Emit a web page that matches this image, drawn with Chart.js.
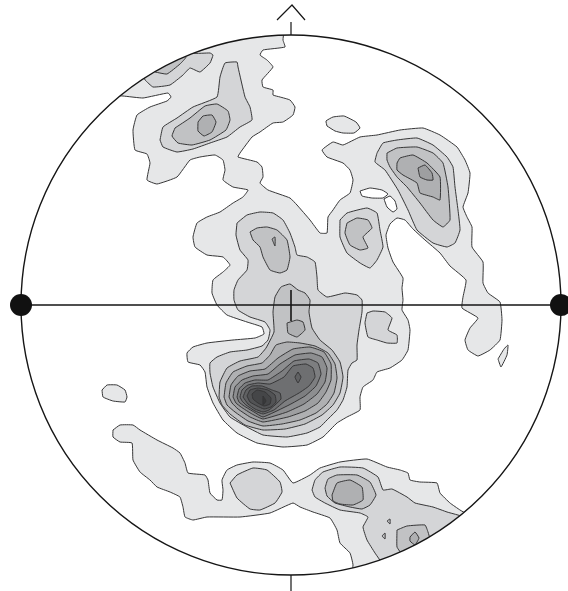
<!DOCTYPE html>
<html lang="en">
<head>
  <meta charset="UTF-8" />
  <title>Stereonet contours</title>
  <script src="https://cdn.jsdelivr.net/npm/chart.js"></script>
  <style>
    body { margin: 0; background: #fff; overflow: hidden; }
    #wrap { width: 568px; height: 591px; position: relative; }
  </style>
</head>
<body>
  <div id="wrap"><canvas id="net"></canvas></div>
  <script>
    // projection plane, primitive circle radius = 270 units, centre at 0,0
    const primitiveRadius = 270;

    // fill shade per contour level (index 0 = hole / background)
    const levelColors = ['#ffffff', '#e6e7e8', '#d4d5d7', '#c1c2c4', '#afb0b2', '#9e9fa1',
      '#8d8e90', '#7d7e80', '#6e6f71', '#606163', '#525355', '#454648', '#38393b'];

    // level 1
    const mainOuter = [[-186,225],[-141,275],[-71,290],[-7,285],[-8,265],[-6,258],[-28,255],[-31,250],[-24,245],[-18,238],[-29,225],[-28,218],[-18,215],[-18,210],[-11,208],[-1,205],[4,198],[2,190],[-8,183],[-18,182],[-31,173],[-39,168],[-51,152],[-53,148],[-34,143],[-29,138],[-28,128],[-31,122],[-23,115],[-1,107],[6,100],[19,85],[29,72],[36,72],[37,88],[42,95],[49,105],[59,112],[62,125],[59,135],[52,142],[36,148],[31,155],[42,163],[52,160],[69,168],[86,170],[109,175],[132,177],[149,170],[166,158],[174,145],[179,132],[177,112],[172,98],[176,88],[181,78],[181,58],[192,43],[192,22],[197,12],[209,3],[211,-15],[209,-35],[199,-45],[187,-51],[177,-45],[174,-35],[179,-23],[187,-13],[171,-3],[172,8],[175,25],[159,39],[149,52],[134,65],[122,76],[114,85],[106,87],[99,81],[95,70],[97,57],[102,43],[112,27],[111,17],[112,5],[111,-5],[117,-15],[119,-25],[117,-45],[111,-55],[99,-63],[86,-67],[82,-75],[72,-82],[69,-92],[69,-105],[56,-112],[46,-118],[32,-132],[16,-140],[-8,-142],[-34,-138],[-54,-128],[-68,-115],[-78,-98],[-84,-82],[-86,-67],[-91,-60],[-103,-57],[-104,-48],[-98,-42],[-84,-38],[-58,-35],[-36,-33],[-27,-29],[-29,-22],[-44,-17],[-64,-10],[-74,0],[-79,12],[-78,25],[-68,33],[-61,40],[-68,48],[-84,50],[-96,58],[-98,68],[-94,82],[-84,88],[-71,93],[-58,102],[-48,108],[-43,115],[-58,118],[-68,125],[-66,135],[-68,145],[-76,150],[-91,148],[-101,145],[-114,128],[-134,121],[-144,125],[-141,142],[-144,151],[-156,155],[-158,175],[-154,190],[-141,198],[-124,204],[-120,208],[-123,212],[-148,207],[-168,209],[-191,210]];
    const northIsland = [[36,179],[35,184],[42,188],[53,189],[65,183],[69,177],[63,172],[52,172],[44,174]];
    const westIsland = [[-189,-85],[-184,-80],[-174,-80],[-166,-85],[-164,-92],[-166,-97],[-178,-96],[-188,-92]];
    const eastIsland = [[207,-54],[213,-44],[217,-40],[216,-50],[210,-62]];
    const southBand = [[-178,-125],[-171,-120],[-158,-120],[-151,-125],[-134,-135],[-118,-143],[-111,-148],[-106,-158],[-103,-168],[-86,-170],[-83,-175],[-81,-188],[-74,-195],[-69,-195],[-68,-185],[-69,-175],[-64,-165],[-54,-160],[-38,-157],[-21,-158],[-8,-165],[2,-178],[19,-170],[29,-163],[49,-157],[76,-154],[96,-162],[109,-165],[117,-168],[119,-175],[129,-177],[146,-178],[149,-188],[159,-198],[169,-205],[184,-215],[159,-275],[69,-290],[59,-285],[62,-260],[59,-248],[49,-238],[46,-225],[39,-213],[22,-207],[9,-202],[2,-198],[-21,-208],[-51,-212],[-84,-212],[-98,-215],[-106,-212],[-108,-202],[-111,-192],[-121,-187],[-134,-182],[-141,-175],[-151,-167],[-158,-155],[-159,-138],[-171,-137],[-178,-132]];

    // holes inside level 1
    const holeWide = [[69,114],[79,117],[91,115],[97,111],[92,107],[81,107],[71,109]];
    const holeSmall = [[93,106],[99,109],[104,104],[106,96],[102,93],[96,98]];

    // level 2
    const nwBand2 = [[-146,225],[-138,218],[-121,220],[-108,230],[-101,237],[-91,233],[-81,242],[-78,250],[-81,252],[-98,252],[-101,265],[-151,245]];
    const nw2 = [[-131,165],[-128,178],[-114,187],[-98,198],[-74,208],[-71,228],[-66,242],[-54,243],[-53,238],[-46,208],[-41,198],[-39,185],[-51,178],[-64,168],[-81,162],[-98,156],[-114,153],[-128,158]];
    const ne2 = [[86,152],[92,162],[106,165],[126,167],[142,160],[156,148],[162,138],[164,118],[167,95],[169,75],[164,62],[156,58],[142,62],[126,75],[117,95],[107,115],[94,135],[84,143]];
    const centerRight2 = [[49,85],[56,92],[76,97],[86,92],[89,75],[92,58],[86,45],[79,37],[69,42],[56,52],[49,68]];
    const center2 = [[-54,82],[-44,90],[-31,93],[-18,92],[-8,85],[-1,72],[4,58],[6,50],[16,48],[24,43],[26,28],[27,15],[36,8],[54,12],[66,10],[71,5],[71,-7],[68,-25],[66,-40],[66,-55],[61,-58],[57,-65],[56,-82],[52,-95],[46,-105],[36,-115],[29,-122],[16,-128],[-4,-132],[-28,-130],[-44,-122],[-61,-112],[-71,-98],[-78,-82],[-81,-68],[-81,-58],[-74,-52],[-61,-47],[-44,-45],[-29,-41],[-23,-35],[-21,-25],[-26,-17],[-41,-12],[-53,-5],[-57,5],[-57,15],[-53,25],[-44,35],[-43,45],[-51,55],[-55,70]];
    const spot2 = [[76,-8],[82,-6],[94,-7],[101,-13],[97,-25],[106,-30],[106,-38],[96,-38],[86,-35],[77,-32],[74,-18]];
    const southBand2 = [[-61,-178],[-54,-170],[-38,-163],[-24,-165],[-11,-177],[-9,-187],[-16,-198],[-31,-205],[-41,-204],[-54,-193]];
    const south2 = [[21,-185],[24,-175],[32,-167],[49,-162],[72,-163],[87,-172],[92,-185],[101,-184],[116,-192],[124,-198],[142,-202],[156,-207],[179,-215],[149,-285],[99,-285],[92,-260],[84,-248],[76,-235],[72,-222],[77,-212],[69,-208],[49,-205],[34,-198],[24,-192]];

    // level 3
    const nwBand3 = [[-136,233],[-124,231],[-111,241],[-105,248],[-116,260],[-141,250]];
    const nw3 = [[-116,177],[-101,187],[-86,199],[-74,201],[-63,194],[-61,185],[-65,175],[-81,165],[-99,160],[-113,162],[-119,169]];
    const ne3 = [[96,152],[106,157],[126,158],[142,152],[152,142],[157,118],[159,85],[152,78],[142,85],[129,102],[116,118],[106,128],[99,138],[96,145]];
    const centerRight3 = [[56,82],[66,87],[77,85],[81,77],[72,68],[77,57],[69,55],[59,60],[54,72]];
    const centerTop3 = [[-41,73],[-34,77],[-24,78],[-14,75],[-4,65],[-1,48],[-4,35],[-11,32],[-21,35],[-28,48],[-31,58],[-38,65]];
    const center3 = [[-72,-92],[-71,-77],[-64,-63],[-51,-56],[-33,-52],[-25,-43],[-17,-27],[-18,-7],[-16,8],[-10,18],[-1,21],[7,15],[14,12],[19,5],[18,-7],[21,-23],[29,-35],[41,-45],[49,-57],[52,-72],[49,-88],[42,-100],[31,-110],[14,-119],[-6,-124],[-28,-125],[-46,-120],[-61,-109],[-69,-100]];
    const south3West = [[34,-183],[37,-174],[46,-170],[66,-170],[79,-177],[85,-190],[79,-200],[71,-204],[59,-202],[44,-198],[36,-191]];
    const south3East = [[106,-225],[116,-221],[134,-220],[137,-227],[139,-235],[132,-242],[122,-248],[112,-250],[106,-242]];
    const southTickA = [[96,-216],[99,-219],[99,-214]];
    const southTickB = [[91,-231],[94,-228],[94,-234]];

    // level 4
    const nw4 = [[-93,183],[-88,189],[-79,190],[-75,183],[-79,173],[-87,169],[-93,174]];
    const ne4 = [[106,142],[109,147],[122,150],[136,142],[149,128],[149,105],[142,108],[129,112],[126,122],[112,130],[106,135]];
    const centerTop4 = [[-19,66],[-16,68],[-16,59]];
    const stem4 = [[-4,-18],[6,-15],[12,-17],[14,-25],[6,-32],[-3,-28]];
    const center4 = [[-67,-92],[-65,-78],[-58,-67],[-44,-61],[-29,-58],[-21,-50],[-15,-40],[-4,-37],[9,-38],[24,-41],[37,-48],[44,-59],[46,-73],[43,-88],[36,-99],[25,-108],[9,-115],[-9,-119],[-28,-121],[-43,-116],[-56,-107],[-64,-100]];
    const south4West = [[41,-190],[46,-178],[59,-175],[71,-182],[72,-195],[62,-200],[49,-199],[42,-196]];
    const south4East = [[119,-232],[124,-227],[128,-233],[124,-240],[119,-236]];

    // levels 5 to 12
    const ne5 = [[127,137],[134,140],[141,132],[142,125],[136,125],[129,128]];
    const center5 = [[-62,-92],[-60,-80],[-53,-71],[-41,-66],[-26,-64],[-13,-53],[2,-44],[19,-42],[33,-47],[40,-59],[40,-75],[35,-87],[27,-98],[14,-106],[-3,-112],[-28,-117],[-41,-112],[-53,-104],[-59,-98]];
    const center6 = [[-58,-92],[-56,-82],[-49,-75],[-38,-71],[-23,-69],[-11,-59],[4,-50],[20,-48],[31,-52],[36,-63],[34,-77],[26,-89],[13,-99],[-4,-107],[-28,-114],[-39,-109],[-50,-102],[-55,-98]];
    const center7 = [[-54,-92],[-52,-84],[-46,-78],[-36,-75],[-23,-75],[-9,-66],[3,-56],[18,-54],[27,-58],[30,-69],[25,-81],[14,-91],[-2,-100],[-28,-112],[-37,-107],[-47,-101],[-52,-97]];
    const center8 = [[-51,-92],[-49,-85],[-43,-80],[-33,-78],[-21,-79],[-7,-72],[2,-61],[15,-59],[22,-63],[24,-72],[18,-81],[8,-88],[-6,-96],[-17,-105],[-28,-109],[-36,-106],[-45,-100],[-49,-96]];
    const peak9 = [[7,-67],[10,-72],[7,-78],[4,-72]];
    const center9 = [[-48,-92],[-45,-85],[-39,-81],[-29,-81],[-19,-85],[-11,-88],[-10,-94],[-16,-100],[-22,-105],[-28,-107],[-36,-104],[-43,-99]];
    const center10 = [[-44,-91],[-41,-85],[-33,-83],[-23,-85],[-16,-90],[-15,-97],[-20,-102],[-27,-104],[-34,-101],[-41,-97]];
    const center11 = [[-39,-89],[-34,-85],[-26,-87],[-20,-93],[-21,-99],[-27,-101],[-33,-98],[-38,-94]];
    const center12 = [[-28,-91],[-25,-96],[-28,-100]];

    // drawing order, bottom to top: [level, polygon]
    const contours = [
      [1, mainOuter], [1, northIsland], [1, westIsland], [1, eastIsland], [1, southBand],
      [0, holeWide], [0, holeSmall],
      [2, nwBand2], [2, nw2], [2, ne2], [2, centerRight2], [2, center2], [2, spot2], [2, southBand2], [2, south2],
      [3, nwBand3], [3, nw3], [3, ne3], [3, centerRight3], [3, centerTop3], [3, center3],
      [3, south3West], [3, south3East], [3, southTickA], [3, southTickB],
      [4, nw4], [4, ne4], [4, centerTop4], [4, stem4], [4, center4], [4, south4West], [4, south4East],
      [5, ne5], [5, center5], [6, center6], [7, center7], [8, center8], [9, peak9], [9, center9],
      [10, center10], [11, center11], [12, center12]
    ];

    const datasets = contours.map(([level, pts], i) => ({
      data: pts.concat([pts[0]]).map(([x, y]) => ({ x, y })),
      showLine: true,
      fill: 'shape',
      backgroundColor: levelColors[level],
      borderColor: '#363637',
      borderWidth: 1,
      pointRadius: 0,
      // a small tension keeps Chart.js off its fast path, which would retrace vertical runs
      tension: 0.12,
      order: contours.length - i
    }));

    // clip the contours to the primitive circle, then draw the net frame on top
    const stereonetFrame = {
      id: 'stereonetFrame',
      beforeDatasetsDraw(chart) {
        const { ctx, scales: { x, y } } = chart;
        const cx = x.getPixelForValue(0), cy = y.getPixelForValue(0);
        const r = x.getPixelForValue(primitiveRadius) - cx;
        ctx.save();
        ctx.beginPath();
        ctx.arc(cx, cy, r, 0, Math.PI * 2);
        ctx.clip();
      },
      afterDatasetsDraw(chart) {
        const { ctx, scales: { x, y } } = chart;
        ctx.restore();
        const px = v => x.getPixelForValue(v), py = v => y.getPixelForValue(v);
        const cx = px(0), cy = py(0);
        const r = px(primitiveRadius) - cx;
        ctx.save();
        ctx.strokeStyle = '#161616';
        ctx.lineWidth = 1.4;
        ctx.beginPath();
        ctx.arc(cx, cy, r, 0, Math.PI * 2);
        ctx.stroke();

        ctx.lineWidth = 1.6;
        ctx.beginPath();
        ctx.moveTo(px(-primitiveRadius), cy);
        ctx.lineTo(px(primitiveRadius), cy);
        ctx.moveTo(cx, py(15));
        ctx.lineTo(cx, py(-16));
        ctx.stroke();

        ctx.lineWidth = 1.2;
        ctx.beginPath();
        ctx.moveTo(cx, py(primitiveRadius));
        ctx.lineTo(cx, py(primitiveRadius + 13));
        ctx.moveTo(px(-14), py(primitiveRadius + 15));
        ctx.lineTo(px(1), py(primitiveRadius + 30));
        ctx.lineTo(px(14), py(primitiveRadius + 15));
        ctx.moveTo(cx, py(-primitiveRadius));
        ctx.lineTo(cx, py(-primitiveRadius - 16));
        ctx.stroke();

        ctx.fillStyle = '#111';
        [-primitiveRadius, primitiveRadius].forEach(v => {
          ctx.beginPath();
          ctx.arc(px(v), cy, 11, 0, Math.PI * 2);
          ctx.fill();
        });
        ctx.restore();
      }
    };

    new Chart(document.getElementById('net').getContext('2d'), {
      type: 'scatter',
      data: { datasets },
      options: {
        responsive: true,
        maintainAspectRatio: false,
        animation: false,
        layout: { padding: { left: 21, right: 7, top: 35, bottom: 16 } },
        scales: {
          x: { type: 'linear', min: -primitiveRadius, max: primitiveRadius, display: false },
          y: { type: 'linear', min: -primitiveRadius, max: primitiveRadius, display: false }
        },
        plugins: { legend: { display: false }, tooltip: { enabled: false } }
      },
      plugins: [stereonetFrame]
    });
  </script>
</body>
</html>
